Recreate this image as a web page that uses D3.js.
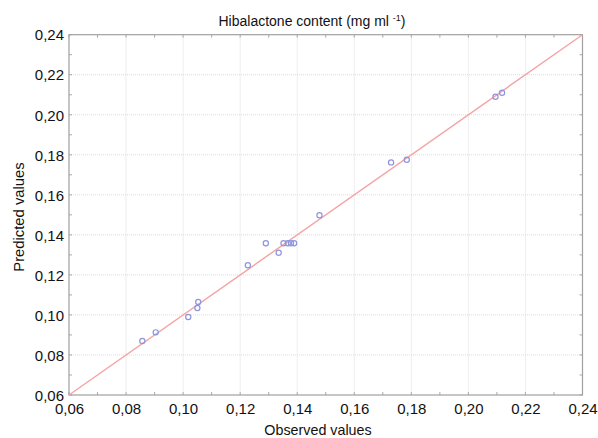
<!DOCTYPE html>
<html><head><meta charset="utf-8">
<script src="https://cdn.jsdelivr.net/npm/d3@7"></script>
<style>body{margin:0;background:#fff}svg{display:block}text{font-family:"Liberation Sans",Arial,sans-serif;fill:#111}</style>
</head><body><svg id="c" width="598" height="438"></svg>
<script>
const observed  = [0.0857,0.0904,0.1018,0.1050,0.1053,0.1227,0.1290,0.1335,0.1352,0.1367,0.1378,0.1389,0.1478,0.1729,0.1784,0.2095,0.2118];
const predicted = [0.0870,0.0913,0.0990,0.1035,0.1065,0.1248,0.1358,0.1311,0.1358,0.1358,0.1358,0.1358,0.1498,0.1762,0.1775,0.2090,0.2110];
const tickValues = [0.06,0.08,0.10,0.12,0.14,0.16,0.18,0.20,0.22,0.24];
const minorTicks = [0.07,0.09,0.11,0.13,0.15,0.17,0.19,0.21,0.23];
const fitLine = [0.06,0.24];

const svg = d3.select("#c");
const L=69,R=582.5,T=34.7,B=395;
const x = d3.scaleLinear().domain([0.06,0.24]).range([L,R]);
const y = d3.scaleLinear().domain([0.06,0.24]).range([B,T]);
const fmt = d => d3.format(".2f")(d).replace(".",",");

// grid
const g = svg.append("g");
g.selectAll(".gx").data(tickValues.slice(1,-1)).join("line")
 .attr("x1",d=>x(d)).attr("x2",d=>x(d)).attr("y1",T).attr("y2",B)
 .attr("stroke","#dcdcdc").attr("stroke-dasharray","1,1");
g.selectAll(".gy").data(tickValues.slice(1,-1)).join("line")
 .attr("y1",d=>y(d)).attr("y2",d=>y(d)).attr("x1",L).attr("x2",R)
 .attr("stroke","#dcdcdc").attr("stroke-dasharray","1,1");

// axes
const ax = svg.append("g").attr("transform",`translate(0,${B})`)
 .call(d3.axisBottom(x).tickValues(tickValues).tickFormat(fmt).tickSize(0).tickPadding(8));
const ay = svg.append("g").attr("transform",`translate(${L},0)`)
 .call(d3.axisLeft(y).tickValues(tickValues).tickFormat(fmt).tickSize(0).tickPadding(5));
[ax,ay].forEach(a=>{a.select(".domain").remove();a.selectAll("text").attr("font-size",15).style("fill","#111").attr("font-family","Liberation Sans, Arial, sans-serif");});
ay.selectAll("text").attr("dy","0.35em");

// inner ticks on all sides
const all = tickValues.concat(minorTicks);
const tk = svg.append("g").attr("stroke","#aaa").attr("stroke-width",1);
all.forEach(v=>{
  const len = 3;
  tk.append("line").attr("x1",x(v)).attr("x2",x(v)).attr("y1",B).attr("y2",B-len);
  tk.append("line").attr("x1",x(v)).attr("x2",x(v)).attr("y1",T).attr("y2",T+len);
  tk.append("line").attr("y1",y(v)).attr("y2",y(v)).attr("x1",L).attr("x2",L+len);
  tk.append("line").attr("y1",y(v)).attr("y2",y(v)).attr("x1",R).attr("x2",R-len);
});

// frame
svg.append("rect").attr("x",L).attr("y",T).attr("width",R-L).attr("height",B-T)
 .attr("fill","none").attr("stroke","#a0a0a0").attr("stroke-width",1.2);

// fit line
svg.append("line").attr("x1",x(fitLine[0])).attr("y1",y(fitLine[0]))
 .attr("x2",x(fitLine[1])).attr("y2",y(fitLine[1]))
 .attr("stroke","#f5a3a3").attr("stroke-width",1.4);

// points
svg.append("g").selectAll("circle").data(observed).join("circle")
 .attr("cx",d=>x(d)).attr("cy",(d,i)=>y(predicted[i])).attr("r",2.6)
 .attr("fill","none").attr("stroke","#8f95dd").attr("stroke-width",1.2);

// title
const t = svg.append("text").attr("x",312).attr("y",26).attr("text-anchor","middle").attr("font-size",14);
t.append("tspan").text("Hibalactone content (mg ml ");
t.append("tspan").text("-1").attr("font-size",9).attr("dy",-5);
t.append("tspan").text(")").attr("dy",5);

svg.append("text").attr("x",318).attr("y",435).attr("text-anchor","middle").attr("font-size",14.3).text("Observed values");
svg.append("text").attr("transform","translate(24,217) rotate(-90)").attr("text-anchor","middle").attr("font-size",14.8).text("Predicted values");
</script></body></html>
